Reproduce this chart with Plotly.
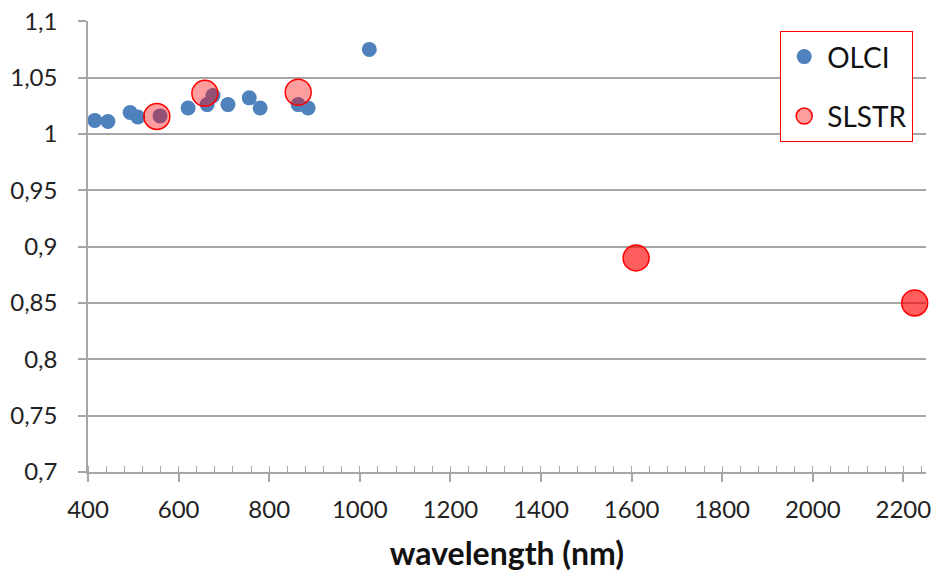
import plotly.graph_objects as go

# OLCI bands (nm) and ratio values
olci_wl = [415, 444, 493, 510, 559, 621, 663, 676, 709, 756, 780, 864, 886, 1021]
olci_val = [1.012, 1.011, 1.019, 1.015, 1.016, 1.023, 1.026, 1.034, 1.026, 1.032, 1.023, 1.026, 1.023, 1.075]

# SLSTR bands (nm) and ratio values
slstr_wl = [552, 658, 864, 1610, 2225]
slstr_val = [1.0155, 1.036, 1.037, 0.890, 0.850]
slstr_fill = ["rgba(255,0,0,0.38)"] * 3 + ["rgba(255,0,0,0.63)"] * 2

x_ticks = [400, 600, 800, 1000, 1200, 1400, 1600, 1800, 2000, 2200]
y_ticks = [0.7, 0.75, 0.8, 0.85, 0.9, 0.95, 1.0, 1.05, 1.1]
y_labels = ["0,7", "0,75", "0,8", "0,85", "0,9", "0,95", "1", "1,05", "1,1"]

BLUE = "#4F81BD"
FONT = "Lato"
GRID = "#A6A6A6"

fig = go.Figure()
fig.add_trace(go.Scatter(x=olci_wl, y=olci_val, mode="markers", showlegend=False, cliponaxis=False,
                         marker=dict(color=BLUE, size=15, line=dict(width=0))))
fig.add_trace(go.Scatter(x=slstr_wl, y=slstr_val, mode="markers", showlegend=False, cliponaxis=False,
                         marker=dict(color=slstr_fill, size=26, line=dict(color="#FF0000", width=1.5))))
# legend entries
fig.add_trace(go.Scatter(x=[None], y=[None], mode="markers", name="OLCI", legendgroup="a",
                         marker=dict(color=BLUE, size=15, line=dict(width=0))))
fig.add_trace(go.Scatter(x=[None], y=[None], mode="markers", name="SLSTR", legendgroup="b",
                         marker=dict(color="rgba(255,0,0,0.38)", size=17, line=dict(color="#FF0000", width=1.5))))

fig.update_layout(
    width=935, height=572,
    margin=dict(l=88, r=9, t=21, b=100),
    plot_bgcolor="white", paper_bgcolor="white",
    font=dict(family=FONT, size=24, color="#222222"),
    legend=dict(x=0.826, y=0.978, xanchor="left", yanchor="top",
                bordercolor="#FF0000", borderwidth=1, bgcolor="white",
                font=dict(family=FONT, size=28, color="#111111"),
                tracegroupgap=20, itemwidth=36),
    xaxis=dict(range=[400, 2250], tickvals=x_ticks, showgrid=False, zeroline=False, automargin=False,
               showline=True, linecolor=GRID, linewidth=1.5,
               ticks="outside", ticklen=8, tickcolor=GRID, tickwidth=1.5,
               minor=dict(dtick=40, tick0=400, ticks="inside", ticklen=6, tickcolor=GRID, tickwidth=1.2),
               tickfont=dict(family=FONT, size=24), ticklabelstandoff=7,
               title=dict(text="<b>wavelength (nm)</b>", font=dict(family=FONT, size=32, color="#111111"), standoff=24)),
    yaxis=dict(range=[0.7, 1.1002], tickvals=y_ticks, ticktext=y_labels, showgrid=True, automargin=False,
               gridcolor=GRID, gridwidth=1.5, zeroline=False,
               showline=True, linecolor=GRID, linewidth=1.5,
               ticks="outside", ticklen=8, tickcolor=GRID, tickwidth=1.5,
               ticklabelstandoff=16,
               tickfont=dict(family=FONT, size=24)),
)

fig.write_html(
    "out.html",
    config={"displayModeBar": False},
    post_script="document.body.style.margin='0';document.body.style.overflow='hidden';",
)
